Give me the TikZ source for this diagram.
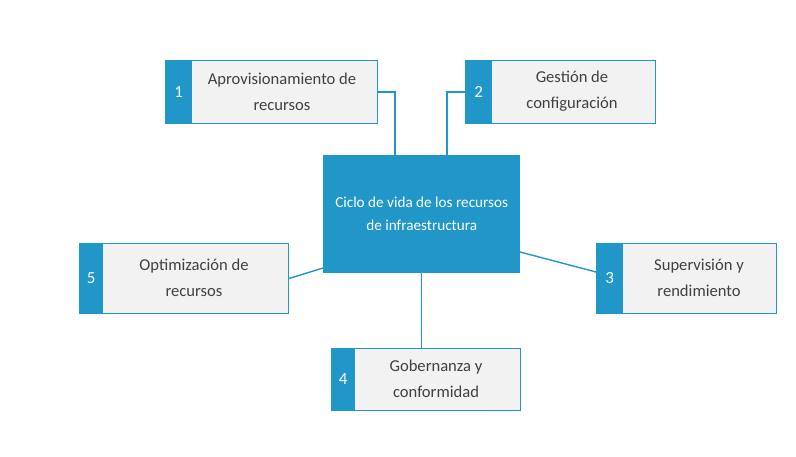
\documentclass[tikz,border=0pt]{standalone}
\usepackage{fontspec}
\setmainfont{Carlito}
\definecolor{cblue}{RGB}{33,150,201}
\definecolor{cgray}{RGB}{242,242,242}
\definecolor{ctext}{RGB}{64,64,64}
\begin{document}
\begin{tikzpicture}[x=1pt,y=-1pt,
  itembox/.style={draw=cblue,line width=1pt,fill=cgray,anchor=north west,inner sep=0pt},
  tab/.style={fill=cblue,anchor=north west,inner sep=0pt,text=white,font=\fontsize{17}{18}\selectfont},
  itemtext/.style={text=ctext,align=center,font=\fontsize{16.6}{26}\selectfont},
  conn/.style={draw=cblue,line width=1.4pt}]
\useasboundingbox (0,0) rectangle (796,457);
% center
\node[fill=cblue,anchor=north west,minimum width=197pt,minimum height=118pt,inner sep=0pt] (c) at (323,155) {};
\node[text=white,align=center,font=\fontsize{15.2}{23}\selectfont] (ct) at (c.center) {Ciclo de vida de los recursos\\de infraestructura};
% box 1
\node[itembox,minimum width=212pt,minimum height=63pt] (b1) at (165,60) {};
\node[tab,minimum width=27pt,minimum height=63pt] (t1) at (165,60) {1};
\node[itemtext] (x1) at (282,91.5) {Aprovisionamiento de\\recursos};
% box 2
\node[itembox,minimum width=190pt,minimum height=63pt] (b2) at (465,60) {};
\node[tab,minimum width=27pt,minimum height=63pt] (t2) at (465,60) {2};
\node[itemtext] (x2) at (572,91.5) {Gestión de\\configuración};
% box 5
\node[itembox,minimum width=209pt,minimum height=70pt] (b5) at (79,243) {};
\node[tab,minimum width=24pt,minimum height=70pt] (t5) at (79,243) {5};
\node[itemtext] (x5) at (194,278) {Optimización de\\recursos};
% box 3
\node[itembox,minimum width=180pt,minimum height=70pt] (b3) at (596,243) {};
\node[tab,minimum width=27pt,minimum height=70pt] (t3) at (596,243) {3};
\node[itemtext] (x3) at (699,278) {Supervisión y\\rendimiento};
% box 4
\node[itembox,minimum width=189pt,minimum height=62pt] (b4) at (331,348) {};
\node[tab,minimum width=24pt,minimum height=62pt] (t4) at (331,348) {4};
\node[itemtext] (x4) at (436,379) {Gobernanza y\\conformidad};
% connectors
\coordinate (c1) at (395,155);
\coordinate (c2) at (447,155);
\coordinate (c5) at (323,268);
\coordinate (c3) at (520,252);
\coordinate (e3) at (596,272);
\draw[conn] (b1.east) -| (c1);
\draw[conn] (b2.west) -| (c2);
\draw[conn] (b5.east) -- (c5);
\draw[conn] (c3) -- (e3);
\draw[conn] (c.south) -- (c.south |- b4.north);
\end{tikzpicture}
\end{document}
